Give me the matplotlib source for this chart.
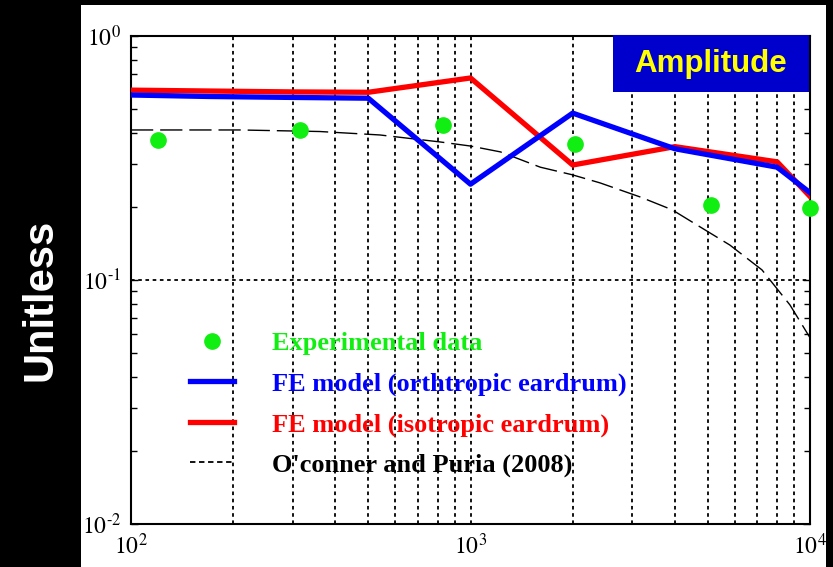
import matplotlib
matplotlib.use("Agg")
import matplotlib.pyplot as plt
from matplotlib.patches import Rectangle
from matplotlib.lines import Line2D
from matplotlib.ticker import LogLocator, NullFormatter

# Experimental data (green dots)
exp_freq = [120, 315, 830, 2030, 5100, 10000]
exp_amp = [0.375, 0.41, 0.43, 0.36, 0.203, 0.197]

# FE model, orthotropic eardrum (blue)
fe_freq = [100, 170, 300, 500, 1000, 2000, 4000, 8000, 10000]
ortho_amp = [0.573, 0.565, 0.56, 0.556, 0.247, 0.483, 0.345, 0.29, 0.228]

# FE model, isotropic eardrum (red)
iso_amp = [0.60, 0.595, 0.59, 0.588, 0.673, 0.296, 0.352, 0.305, 0.22]

# O'conner and Puria (2008) (black dashed)
op_freq = [100, 209, 360, 541, 813, 1000, 1225, 1605, 1992, 2408, 3158,
           3925, 4747, 5810, 7220, 8730, 10000]
op_amp = [0.412, 0.412, 0.406, 0.393, 0.368, 0.354, 0.335, 0.29, 0.27, 0.25,
          0.219, 0.194, 0.165, 0.139, 0.11, 0.079, 0.058]

plt.rcParams['mathtext.fontset'] = 'stix'

W, H = 833, 567
fig = plt.figure(figsize=(W / 100, H / 100), dpi=100, facecolor='black')

# white panel behind the plot
fig.patches.append(Rectangle((81 / W, 0), (826 - 81) / W, 1 - 5 / H,
                             transform=fig.transFigure, facecolor='white',
                             edgecolor='none', zorder=-1))

ax = fig.add_axes([131 / W, 1 - 524 / H, (810 - 131) / W, (524 - 36) / H])
ax.set_zorder(1)
ax.set_facecolor('white')
ax.set_xscale('log')
ax.set_yscale('log')
ax.set_xlim(100, 10000)
ax.set_ylim(0.01, 1)

grid_style = dict(color='black', linestyle=(0, (2, 2)), linewidth=1.3)
ax.grid(True, axis='x', which='both', **grid_style)
ax.grid(True, axis='y', which='major', **grid_style)

ax.plot(op_freq, op_amp, color='black', linewidth=1.0, linestyle=(0, (16, 5)), zorder=3)
ax.plot(fe_freq, iso_amp, color='#ff0000', linewidth=3.8, zorder=4)
ax.plot(fe_freq, ortho_amp, color='#0000ff', linewidth=3.8, zorder=5)
ax.plot(exp_freq, exp_amp, 'o', color='#11ee11', markersize=11, linestyle='none',
        zorder=6, clip_on=False)

for s in ax.spines.values():
    s.set_color('black')
    s.set_linewidth(1.5)

ax.yaxis.set_minor_locator(LogLocator(base=10, subs=range(2, 10)))
ax.yaxis.set_minor_formatter(NullFormatter())
ax.xaxis.set_minor_formatter(NullFormatter())
ax.tick_params(axis='y', which='both', direction='in', right=True, labelsize=17, pad=7)
ax.tick_params(axis='y', which='minor', length=4, width=1)
ax.tick_params(axis='y', which='major', length=5, width=1)
ax.tick_params(axis='x', which='both', length=0, labelsize=17, pad=7)
ax.set_yticks([0.01, 0.1, 1])
ax.set_yticklabels([r'$10^{\text{-}2}$', r'$10^{\text{-}1}$', r'$10^{0}$'])
ax.set_xticks([100, 1000, 10000])
ax.set_xticklabels([r'$10^{2}$', r'$10^{3}$', r'$10^{4}$'])

# legend with proxy handles
legend_labels = ['Experimental data', 'FE model (orthtropic eardrum)',
                 'FE model (isotropic eardrum)', "O'conner and Puria (2008)"]
legend_colors = ['#11ee11', '#0000ff', '#ff0000', 'black']
handles = [
    Line2D([], [], marker='o', color='#11ee11', markersize=11, linestyle='none'),
    Line2D([], [], color='#0000ff', linewidth=3.8),
    Line2D([], [], color='#ff0000', linewidth=3.8),
    Line2D([], [], color='black', linewidth=1.3, linestyle=(0, (3, 2))),
]
leg = ax.legend(handles, legend_labels,
                loc='upper left', bbox_to_anchor=(190 / W, 1 - 332 / H),
                bbox_transform=fig.transFigure, frameon=False,
                prop={'family': 'Liberation Serif', 'weight': 'bold', 'size': 19},
                labelcolor=legend_colors,
                handlelength=1.65, handletextpad=1.45, labelspacing=0.63,
                borderpad=0, borderaxespad=0)
leg.set_zorder(7)

# Amplitude box
fig.patches.append(Rectangle((613 / W, 1 - 92 / H), (809 - 613) / W, (92 - 35) / H,
                             transform=fig.transFigure, facecolor='#0000cc',
                             edgecolor='none', zorder=10))
fig.text(711 / W, 1 - 64 / H, 'Amplitude', color='#ffff00', fontsize=22.5,
         fontweight='bold', family='Liberation Sans', ha='center', va='center', zorder=11)

fig.text(40 / W, 1 - 300 / H, 'Unitless', color='white', fontsize=30,
         fontweight='bold', family='Liberation Sans', rotation=90,
         ha='center', va='center')

fig.savefig('out.png', dpi=100, facecolor='black')
